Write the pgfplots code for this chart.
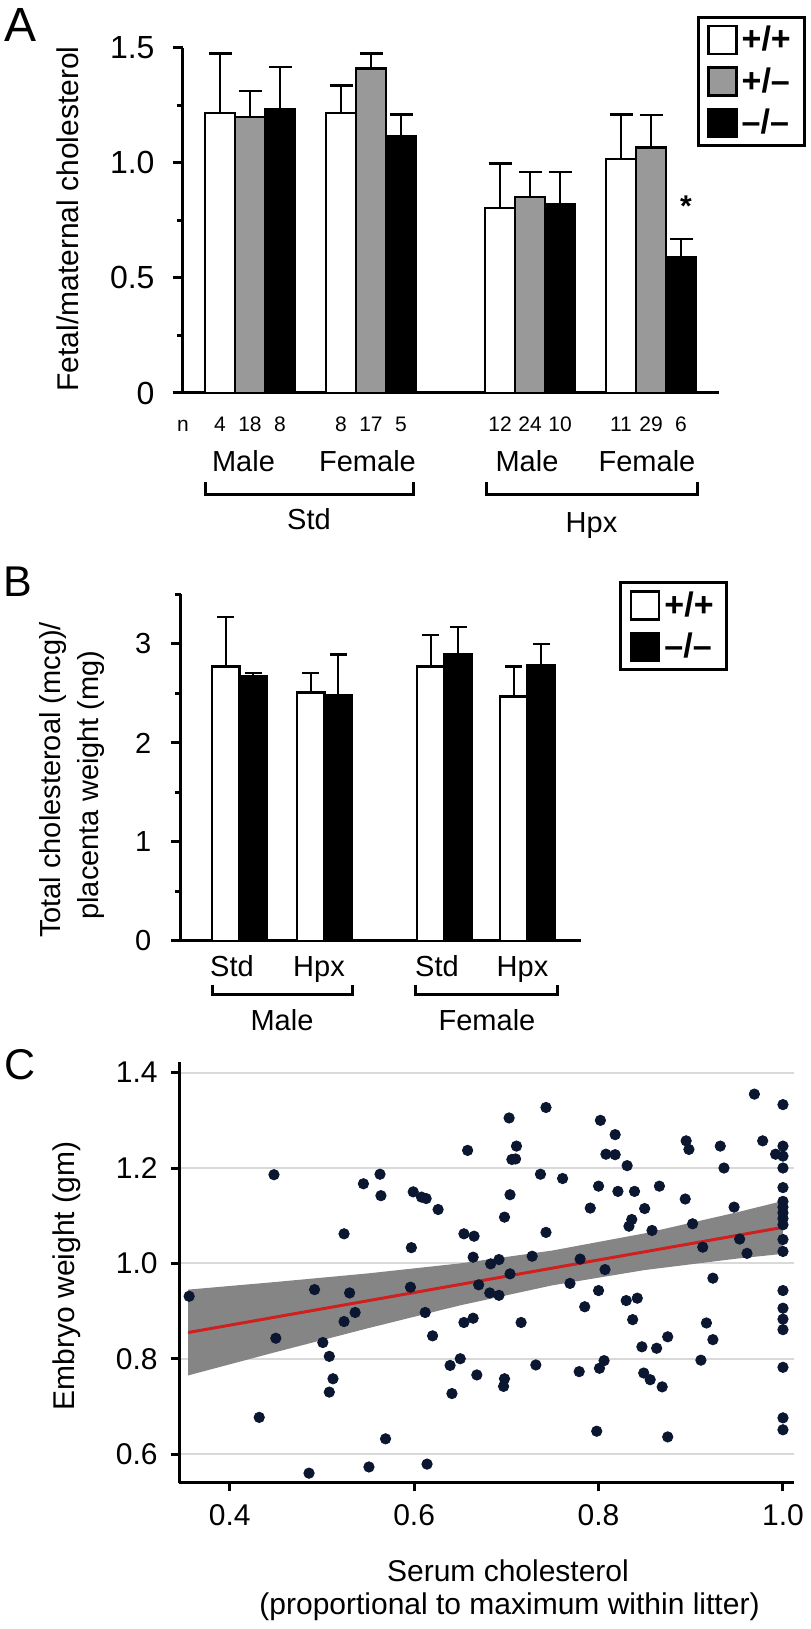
\documentclass[border=0pt]{standalone}
\usepackage{pgfplots}
\pgfplotsset{compat=1.18}
\usepackage{fontspec}
\setmainfont{Liberation Sans}
\definecolor{barGray}{HTML}{999999}
\definecolor{dotNavy}{HTML}{0B1731}
\definecolor{bandGray}{HTML}{858585}
\definecolor{fitRed}{HTML}{D01F1F}
\definecolor{gridGray}{HTML}{D9D9D9}

\pgfplotsset{
  panel/.style={
    scale only axis, anchor=south west, clip=false,
    axis lines=left, axis line style={-, line width=1.5pt, black},
    tick align=outside, tick style={black, line width=1.5pt},
    major tick length=5pt, minor tick length=3pt,
  },
  sq/.style={legend image code/.code={\draw[##1, line width=1.2pt] (0pt,-7pt) rectangle (14pt,7pt);}},
  bars/.style={ybar, bar shift=0pt, draw=black, line width=1.2pt, sq},
  errbar/.style={error bars/.cd, y dir=plus, y explicit,
    error bar style={line width=1.2pt, black},
    error mark options={rotate=90, line width=1.2pt, black, mark size=#1}},
  legbox/.style={legend style={at={#1}, anchor=north east, draw=black, line width=1.5pt,
    font=\fontsize{17}{20}\selectfont\bfseries, inner xsep=4.6pt, inner ysep=2.5pt, row sep=3pt},
    legend cell align=left},
}

\begin{document}
\begin{tikzpicture}
\path (0,0) rectangle (405pt,814.5pt);

% ---------- A ----------
\begin{axis}[panel, at={(91.25pt,618pt)}, width=268.25pt, height=172.65pt,
  xmin=182.5, xmax=719, ymin=0, ymax=1.5, xtick=\empty,
  ytick={0,0.5,1,1.5}, yticklabels={0,0.5,1.0,1.5}, minor ytick={0.25,0.75,1.25},
  yticklabel style={font=\fontsize{16}{19}\selectfont, inner sep=0pt, xshift=-8.8pt},
  legbox={(1.1613,1.0932)}]
\addplot[bars, bar width=30, fill=white, errbar=5.75pt] coordinates {
  (220,1.215) +- (0,0.26) (341,1.215) +- (0,0.12) (500,0.803) +- (0,0.194) (621,1.016) +- (0,0.193)};
\addlegendentry{+/+}
\addplot[bars, bar width=30, fill=barGray, errbar=5.75pt] coordinates {
  (250,1.199) +- (0,0.113) (371,1.409) +- (0,0.066) (530,0.852) +- (0,0.108) (651,1.066) +- (0,0.142)};
\addlegendentry{+/–}
\addplot[bars, bar width=30, fill=black, errbar=5.75pt] coordinates {
  (280,1.234) +- (0,0.183) (401,1.117) +- (0,0.092) (560,0.821) +- (0,0.139) (681,0.592) +- (0,0.076)};
\addlegendentry{–/–}
\node[font=\fontsize{15}{18}\selectfont\bfseries] at (axis cs:686,0.81) {*};
\end{axis}

\begin{scope}[every node/.style={inner sep=0pt, anchor=base}]
\node[font=\fontsize{24}{28}\selectfont] at (10.5pt,793.5pt) {A};
\node[font=\fontsize{15}{18}\selectfont, rotate=90] at (39pt,705pt) {Fetal/maternal cholesterol};
\begin{scope}[font=\fontsize{10.5}{13}\selectfont]
\node at (91.5pt,598.5pt) {n};
\node at (110pt,598.5pt) {4};  \node at (125pt,598.5pt) {18}; \node at (140pt,598.5pt) {8};
\node at (170.5pt,598.5pt) {8}; \node at (185.5pt,598.5pt) {17}; \node at (200.5pt,598.5pt) {5};
\node at (250pt,598.5pt) {12}; \node at (265pt,598.5pt) {24}; \node at (280pt,598.5pt) {10};
\node at (310.5pt,598.5pt) {11}; \node at (325.5pt,598.5pt) {29}; \node at (340.5pt,598.5pt) {6};
\end{scope}
\begin{scope}[font=\fontsize{14.5}{17}\selectfont]
\node at (121.75pt,578.5pt) {Male}; \node at (183.75pt,578.5pt) {Female};
\node at (263.5pt,578.5pt) {Male};  \node at (323.5pt,578.5pt) {Female};
\node at (154.5pt,549.5pt) {Std};   \node at (295.75pt,548pt) {Hpx};
\end{scope}
\end{scope}
\draw[line width=1.5pt] (102.5pt,573.5pt) -- (102.5pt,567pt) -- (206.5pt,567pt) -- (206.5pt,573.5pt);
\draw[line width=1.5pt] (243pt,573.5pt) -- (243pt,567pt) -- (348.5pt,567pt) -- (348.5pt,573.5pt);

% ---------- B ----------
\begin{axis}[panel, at={(90.5pt,344pt)}, width=200pt, height=173.25pt,
  xmin=181, xmax=581, ymin=0, ymax=3.5, xtick=\empty,
  ytick={0,1,2,3}, yticklabels={0,1,2,3}, minor ytick={0.5,1.5,2.5,3.5},
  yticklabel style={font=\fontsize{14.5}{17}\selectfont, inner sep=0pt, xshift=-9.7pt},
  legbox={(1.3683,1.0388)}]
\addplot[bars, bar width=27.5, fill=white, errbar=4.25pt] coordinates {
  (225.75,2.774) +- (0,0.499) (310.75,2.511) +- (0,0.196) (430.75,2.774) +- (0,0.314) (513.75,2.471) +- (0,0.303)};
\addlegendentry{+/+}
\addplot[bars, bar width=27.5, fill=black, errbar=4.25pt] coordinates {
  (253.25,2.673) +- (0,0.034) (338.25,2.478) +- (0,0.414) (458.25,2.899) +- (0,0.273) (541.25,2.781) +- (0,0.219)};
\addlegendentry{–/–}
\end{axis}

\begin{scope}[every node/.style={inner sep=0pt, anchor=base}]
\node[font=\fontsize{21.5}{25}\selectfont] at (9pt,516pt) {B};
\node[font=\fontsize{14.5}{17}\selectfont, rotate=90] at (30.25pt,424.5pt) {Total cholesteroal (mcg)/};
\node[font=\fontsize{14.5}{17}\selectfont, rotate=90] at (49.25pt,422pt) {placenta weight (mg)};
\begin{scope}[font=\fontsize{14.5}{17}\selectfont]
\node at (116pt,326pt) {Std}; \node at (159.5pt,326pt) {Hpx};
\node at (218.5pt,326pt) {Std}; \node at (261.25pt,326pt) {Hpx};
\node at (141pt,299pt) {Male}; \node at (243.5pt,299pt) {Female};
\end{scope}
\end{scope}
\draw[line width=1.5pt] (106pt,322pt) -- (106pt,317pt) -- (176pt,317pt) -- (176pt,322pt);
\draw[line width=1.5pt] (207.5pt,322pt) -- (207.5pt,317pt) -- (278.5pt,317pt) -- (278.5pt,322pt);

% ---------- C ----------
\begin{axis}[panel, at={(89.5pt,73.15pt)}, width=307.75pt, height=210.5pt,
  xmin=0.345, xmax=1.0125, ymin=0.54, ymax=1.423,
  major tick length=4pt,
  xtick={0.4,0.6,0.8,1.0}, xticklabels={0.4,0.6,0.8,1.0},
  ytick={0.6,0.8,1.0,1.2,1.4}, yticklabels={0.6,0.8,1.0,1.2,1.4},
  xticklabel style={font=\fontsize{15}{18}\selectfont, inner sep=0pt, yshift=-6.6pt},
  yticklabel style={font=\fontsize{15}{18}\selectfont, inner sep=0pt, xshift=-6.5pt},
  ymajorgrids, grid style={gridGray, line width=1pt}]
% confidence band: upper edge left to right, then lower edge right to left
\addplot[fill=bandGray, draw=none] coordinates {
  (0.355,0.945) (0.45,0.961) (0.55,0.979) (0.65,1.000) (0.75,1.027) (0.85,1.063) (0.95,1.107) (1.0,1.131)
  (1.0,1.020) (0.95,1.010) (0.85,0.986) (0.75,0.954) (0.65,0.912) (0.55,0.864) (0.45,0.814) (0.355,0.765)};
\addplot[fitRed, line width=1.5pt] coordinates {(0.355,0.855) (1.0,1.0756)};
\addplot[only marks, mark=*, mark size=2.6pt, mark options={fill=dotNavy, draw=dotNavy}] coordinates {
  (0.356,0.931) (0.448,1.186) (0.432,0.677) (0.450,0.843) (0.492,0.945) (0.486,0.560) (0.501,0.834)
  (0.508,0.805) (0.512,0.758) (0.508,0.730) (0.524,1.062) (0.530,0.938) (0.524,0.878) (0.536,0.897)
  (0.545,1.167) (0.563,1.187) (0.564,1.142) (0.569,0.632) (0.551,0.573) (0.599,1.150) (0.608,1.139)
  (0.613,1.136) (0.626,1.113) (0.597,1.033) (0.596,0.950) (0.612,0.897) (0.620,0.848) (0.614,0.579)
  (0.658,1.237) (0.654,1.062) (0.665,1.057) (0.664,1.013) (0.670,0.955) (0.683,0.999) (0.682,0.938)
  (0.654,0.876) (0.664,0.885) (0.650,0.800) (0.639,0.786) (0.668,0.766) (0.641,0.727)
  (0.703,1.305) (0.743,1.327) (0.711,1.246) (0.706,1.218) (0.710,1.219) (0.737,1.187) (0.761,1.178)
  (0.704,1.144) (0.698,1.097) (0.743,1.065) (0.728,1.015) (0.692,1.008) (0.704,0.978) (0.692,0.933)
  (0.716,0.876) (0.732,0.787) (0.698,0.758) (0.697,0.742) (0.802,1.300) (0.818,1.270) (0.808,1.229)
  (0.818,1.228) (0.831,1.205) (0.800,1.162) (0.821,1.151) (0.839,1.151) (0.866,1.162) (0.791,1.116)
  (0.850,1.115) (0.836,1.092) (0.833,1.078) (0.858,1.069) (0.780,1.009) (0.807,0.987) (0.769,0.958)
  (0.800,0.943) (0.785,0.909) (0.830,0.922) (0.842,0.927) (0.837,0.882) (0.847,0.825) (0.863,0.822)
  (0.875,0.846) (0.779,0.773) (0.801,0.780) (0.806,0.796) (0.849,0.770) (0.856,0.756) (0.869,0.741)
  (0.798,0.648) (0.875,0.636) (0.895,1.257) (0.898,1.239) (0.932,1.246) (0.936,1.200) (0.894,1.135)
  (0.902,1.083) (0.913,1.034) (0.947,1.118) (0.953,1.051) (0.961,1.021) (0.924,0.969) (0.917,0.875)
  (0.924,0.840) (0.911,0.797) (0.969,1.355) (0.978,1.257) (1.0,1.333) (0.992,1.229) (1.0,1.246)
  (1.0,1.225) (1.0,1.200) (1.0,1.159) (1.0,1.130) (1.0,1.118) (1.0,1.106) (1.0,1.094) (1.0,1.081)
  (1.0,1.050) (1.0,1.025) (1.0,0.943) (1.0,0.906) (1.0,0.883) (1.0,0.861) (1.0,0.782) (1.0,0.676)
  (1.0,0.651)};
\end{axis}

\begin{scope}[every node/.style={inner sep=0pt, anchor=base}, font=\fontsize{15}{18}\selectfont]
\node[font=\fontsize{21.5}{25}\selectfont] at (10pt,274.5pt) {C};
\node[rotate=90] at (37.5pt,176.5pt) {Embryo weight (gm)};
\node at (254pt,23.5pt) {Serum cholesterol};
\node at (254.75pt,7.5pt) {(proportional to maximum within litter)};
\end{scope}
\end{tikzpicture}
\end{document}
